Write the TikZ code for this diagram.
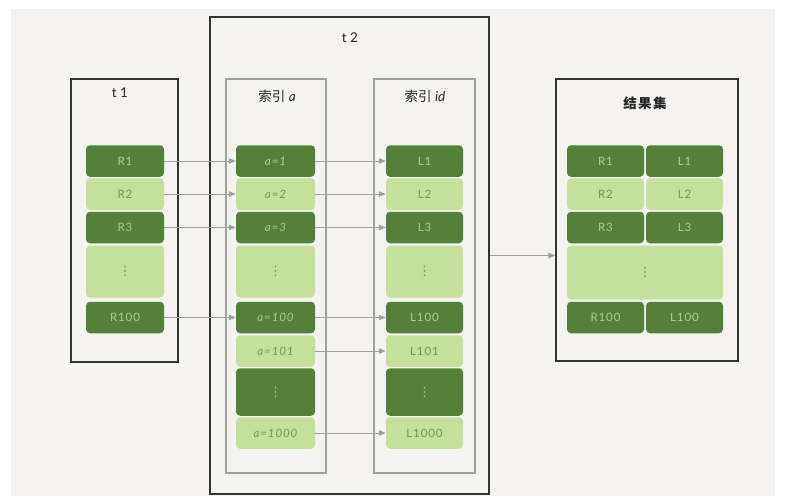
\documentclass[tikz,border=0pt]{standalone}
\usepackage{fontspec}
\setmainfont{Lato}
\newfontfamily\cjk{Noto Sans CJK SC}
\newfontfamily\djv{DejaVu Sans}
\usetikzlibrary{arrows.meta}
\definecolor{bgc}{HTML}{F4F3EF}
\definecolor{dkg}{HTML}{548139}
\definecolor{ltg}{HTML}{C5DF9C}
\definecolor{dkt}{HTML}{A9D08C}
\definecolor{ltt}{HTML}{6E9B52}
\definecolor{boxc}{HTML}{333333}
\definecolor{grayc}{HTML}{A0A09E}
\newcommand{\vdt}{{\djv\fontsize{13}{13}\selectfont ⋮}}
\tikzset{
  cell/.style={rounded corners=4pt, minimum height=31.5pt, inner sep=0pt, font=\fontsize{11.5}{12}\selectfont\addfontfeatures{LetterSpace=8}},
  dk/.style={cell, fill=dkg, text=dkt},
  lt/.style={cell, fill=ltg, text=ltt},
  bigbox/.style={draw=boxc, line width=1.4pt, inner sep=0pt},
  idxbox/.style={draw=grayc, line width=1.2pt, inner sep=0pt},
  ttl/.style={font=\fontsize{13.5}{15}\selectfont, text=black!85},
  conn/.style={draw=grayc, line width=1pt, -{Triangle[length=7pt,width=5.5pt]}},
}
\begin{document}
\begin{tikzpicture}[x=1pt,y=-1pt]
\useasboundingbox (0,0) rectangle (807,496);
\fill[bgc] (11,9) rectangle (775,496);
% frames
\node[bigbox, minimum width=107pt, minimum height=283pt] (t1) at (124.5,220.5) {};
\node[bigbox, minimum width=279pt, minimum height=477pt] (t2) at (349.5,255.5) {};
\node[idxbox, minimum width=100pt, minimum height=394pt] (ia) at (276,276) {};
\node[idxbox, minimum width=101pt, minimum height=394pt] (ii) at (424.5,276) {};
\node[bigbox, minimum width=182pt, minimum height=282pt] (rs) at (647,220) {};
% titles
\node[ttl] (tt1) at (120,93) {\addfontfeatures{LetterSpace=25}t1};
\node[ttl] (tt2) at (350,38) {\addfontfeatures{LetterSpace=25}t2};
\node[ttl] (tia) at (277,96) {{\cjk 索引} \itshape a};
\node[ttl] (tii) at (425,96) {{\cjk 索引} \itshape id};
\node[ttl] (trs) at (645,103) {\cjk\bfseries\addfontfeatures{LetterSpace=10}结果集};
% t1 column
\begin{scope}[every node/.append style={minimum width=78pt}]
\node[dk] (r1) at (125,161) {R1};
\node[lt] (r2) at (125,194) {R2};
\node[dk] (r3) at (125,227.5) {R3};
\node[lt, minimum height=52pt] (rd) at (125,271.5) {\vdt};
\node[dk] (r100) at (125,317.5) {R100};
\end{scope}
% index a column
\begin{scope}[every node/.append style={minimum width=79pt}]
\node[dk] (a1) at (275.5,161) {\itshape a=1};
\node[lt] (a2) at (275.5,194) {\itshape a=2};
\node[dk] (a3) at (275.5,227.5) {\itshape a=3};
\node[lt, minimum height=52pt] (ad) at (275.5,271.5) {\vdt};
\node[dk] (a100) at (275.5,317.5) {\itshape a=100};
\node[lt] (a101) at (275.5,351) {\itshape a=101};
\node[dk, minimum height=47.5pt] (ad2) at (275.5,392) {\vdt};
\node[lt] (a1000) at (275.5,433) {\itshape a=1000};
\end{scope}
% index id column
\begin{scope}[every node/.append style={minimum width=77pt}]
\node[dk] (l1) at (424.5,161) {L1};
\node[lt] (l2) at (424.5,194) {L2};
\node[dk] (l3) at (424.5,227.5) {L3};
\node[lt, minimum height=52pt] (ld) at (424.5,271.5) {\vdt};
\node[dk] (l100) at (424.5,317.5) {L100};
\node[lt] (l101) at (424.5,351) {L101};
\node[dk, minimum height=47.5pt] (ld2) at (424.5,392) {\vdt};
\node[lt] (l1000) at (424.5,433) {L1000};
\end{scope}
% result set
\begin{scope}[every node/.append style={minimum width=77pt}]
\node[dk] (s1) at (605.5,161) {R1};
\node[dk] (u1) at (684.5,161) {L1};
\node[lt] (s2) at (605.5,194) {R2};
\node[lt] (u2) at (684.5,194) {L2};
\node[dk] (s3) at (605.5,227.5) {R3};
\node[dk] (u3) at (684.5,227.5) {L3};
\node[lt, minimum width=156pt, minimum height=54pt] (sd) at (645,272.5) {\vdt};
\node[dk] (s100) at (605.5,317.5) {R100};
\node[dk] (u100) at (684.5,317.5) {L100};
\end{scope}
% connectors
\draw[conn] (r1) -- (a1);
\draw[conn] (r2) -- (a2);
\draw[conn] (r3) -- (a3);
\draw[conn] (r100) -- (a100);
\draw[conn] (a1) -- (l1);
\draw[conn] (a2) -- (l2);
\draw[conn] (a3) -- (l3);
\draw[conn] (a100) -- (l100);
\draw[conn] (a101) -- (l101);
\draw[conn] (a1000) -- (l1000);
\draw[conn] (t2.east) -- (t2.east -| rs.west);
\end{tikzpicture}
\end{document}
